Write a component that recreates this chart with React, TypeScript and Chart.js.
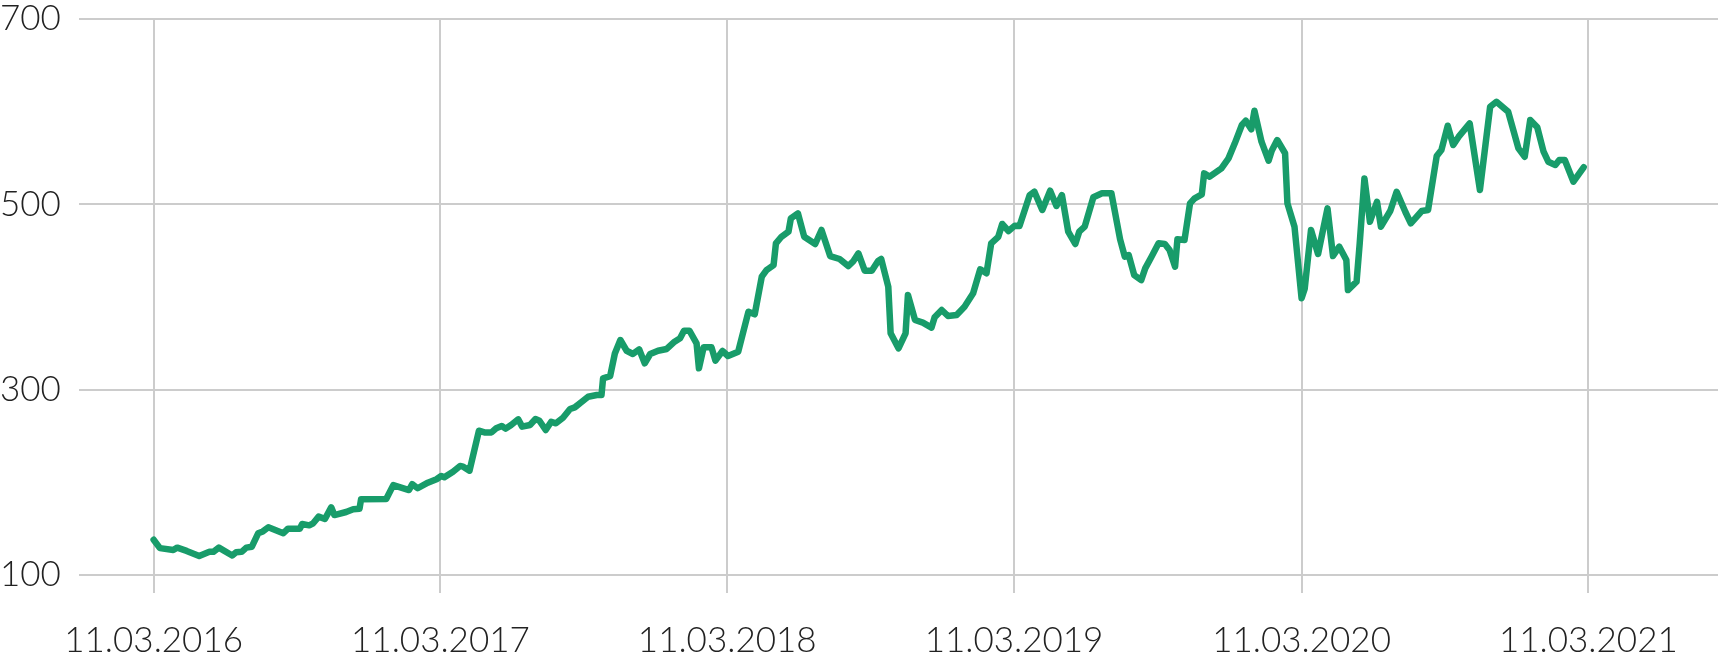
import React, { useEffect, useRef } from "react";
import { Chart, registerables } from "chart.js";

Chart.register(...registerables);

const dates: string[] = [
  "2016-03-11","2016-03-19","2016-04-05","2016-04-10","2016-04-22","2016-05-08","2016-05-21","2016-05-26",
  "2016-06-02","2016-06-19","2016-06-24","2016-07-01","2016-07-07","2016-07-14","2016-07-22","2016-07-28",
  "2016-08-04","2016-08-23","2016-08-29","2016-09-13","2016-09-16","2016-09-25","2016-09-30","2016-10-07",
  "2016-10-15","2016-10-23","2016-10-27","2016-11-11","2016-11-20","2016-11-28","2016-11-30","2017-01-01",
  "2017-01-10","2017-01-30","2017-02-03","2017-02-10","2017-02-23","2017-03-06","2017-03-12","2017-03-16",
  "2017-03-27","2017-04-05","2017-04-09","2017-04-17","2017-04-29","2017-05-06","2017-05-15","2017-05-21",
  "2017-05-28","2017-06-02","2017-06-09","2017-06-18","2017-06-23","2017-07-03","2017-07-10","2017-07-15",
  "2017-07-23","2017-07-30","2017-08-05","2017-08-14","2017-08-23","2017-08-29","2017-09-07","2017-09-15",
  "2017-09-26","2017-10-02","2017-10-04","2017-10-13","2017-10-19","2017-10-26","2017-11-03","2017-11-11",
  "2017-11-19","2017-11-26","2017-12-03","2017-12-13","2017-12-24","2018-01-03","2018-01-10","2018-01-15",
  "2018-01-22","2018-01-31","2018-02-03","2018-02-09","2018-02-19","2018-02-24","2018-03-05","2018-03-12",
  "2018-03-25","2018-04-07","2018-04-15","2018-04-24","2018-04-30","2018-05-09","2018-05-12","2018-05-19",
  "2018-05-28","2018-05-31","2018-06-09","2018-06-17","2018-07-01","2018-07-09","2018-07-20","2018-08-01",
  "2018-08-12","2018-08-18","2018-08-25","2018-09-02","2018-09-11","2018-09-19","2018-09-23","2018-10-02",
  "2018-10-05","2018-10-15","2018-10-24","2018-10-27","2018-11-05","2018-11-15","2018-11-26","2018-11-30",
  "2018-12-09","2018-12-17","2018-12-28","2019-01-07","2019-01-18","2019-01-27","2019-02-04","2019-02-10",
  "2019-02-19","2019-02-24","2019-03-04","2019-03-12","2019-03-18","2019-03-31","2019-04-06","2019-04-16",
  "2019-04-26","2019-05-04","2019-05-11","2019-05-19","2019-05-28","2019-06-02","2019-06-09","2019-06-20",
  "2019-07-01","2019-07-13","2019-07-24","2019-07-30","2019-08-04","2019-08-11","2019-08-20","2019-08-25",
  "2019-09-02","2019-09-11","2019-09-19","2019-09-25","2019-10-02","2019-10-05","2019-10-14","2019-10-21",
  "2019-10-27","2019-11-05","2019-11-08","2019-11-15","2019-11-30","2019-12-09","2019-12-17","2019-12-26",
  "2019-12-31","2020-01-07","2020-01-11","2020-01-20","2020-01-29","2020-02-02","2020-02-09","2020-02-19",
  "2020-02-22","2020-03-02","2020-03-11","2020-03-15","2020-03-23","2020-04-01","2020-04-13","2020-04-20",
  "2020-04-28","2020-05-07","2020-05-09","2020-05-20","2020-05-24","2020-05-30","2020-06-06","2020-06-15",
  "2020-06-20","2020-07-02","2020-07-10","2020-07-21","2020-07-28","2020-08-11","2020-08-19","2020-08-30",
  "2020-09-05","2020-09-13","2020-09-20","2020-09-27","2020-10-11","2020-10-24","2020-11-06","2020-11-14",
  "2020-11-29","2020-12-12","2020-12-20","2020-12-27","2021-01-05","2021-01-13","2021-01-19","2021-01-28",
  "2021-02-02","2021-02-09","2021-02-20","2021-03-05"
];

const values: number[] = [
  138,129,127,129.5,126,120.5,125,125,
  129.5,121,124.5,125,129.5,130.5,145,147,
  151.5,145,150,150,155,153.6,155.8,163,
  160.4,173,164.7,168,171,171.5,181.7,182,
  197,191.7,198,193.6,199.6,203.3,206.8,205.4,
  211.5,217.6,216.9,212.6,255.7,253.9,253.9,258.3,
  260.8,257.9,261.9,268,260.1,261.9,268.3,266.5,
  256.5,265.4,263.7,269.7,279.1,280.9,287,292.4,
  294.2,294.2,312.2,314.7,339,353.6,342,338.5,
  343.5,328.4,338.5,342,343.9,351.8,355.4,363.6,
  363.6,350,323,345.7,345.7,331.3,341.7,336.3,
  341,384.1,381.3,421.9,429.1,434.5,457.9,465,
  470.5,484.9,490.3,465,457.2,472.3,444.2,441,
  433.4,438.1,447.1,428.4,428.4,438.8,441,411.1,
  360.8,344.6,360.8,402.2,375.2,372.3,366.9,378.1,
  386,379.5,380.6,389.5,404,429.9,425.6,457.9,
  465,478.8,471.2,477,476.6,510,513.6,493.9,
  514.7,498.2,510,470.5,457.2,470.5,475.9,507.6,
  511.9,511.9,462.3,443.5,445.3,423.7,418.3,430.9,
  443.5,457.9,457.2,450.7,432.7,462.3,461.5,501,
  506.5,510.8,533.4,529.8,538.8,549.6,565.8,585.6,
  590.2,580.9,601,567.6,547.1,557.9,569.4,555.1,
  501,475.8,398.6,409,472.3,446.4,495.6,444.2,
  454.3,439.9,407.5,416.5,457.9,528,481.2,502.8,
  475.9,493.1,513.6,492,479.5,492.8,493.9,552.1,
  558.6,584.8,564,573,587.3,515.5,605.3,610.7,
  599.9,560.4,551.4,591,583.1,556.8,546,542.5,
  547.9,547.9,524.4,540
];

const tickDates: string[] = ["2016-03-11","2017-03-11","2018-03-11","2019-03-11","2020-03-11","2021-03-11"];
const yTicks: number[] = [100, 300, 500, 700];
const xRange: string[] = ["2015-12-07", "2021-08-23"];

const DAY = 86400000;
const toDay = (s: string) => {
  const [y, m, d] = s.split("-").map(Number);
  return Date.UTC(y, m - 1, d) / DAY;
};
const fmt = (v: number) => {
  const dt = new Date(Math.round(v) * DAY);
  const dd = String(dt.getUTCDate()).padStart(2, "0");
  const mm = String(dt.getUTCMonth() + 1).padStart(2, "0");
  return `${dd}.${mm}.${dt.getUTCFullYear()}`;
};

const FONT = { family: "Lato, 'Noto Sans', sans-serif", size: 35, weight: "300" as any, lineHeight: 1.1 };
const TEXT = "#222222";
const GRID = "#cccccc";

export default function App() {
  const ref = useRef<HTMLCanvasElement | null>(null);
  useEffect(() => {
    if (!ref.current) return;
    const chart = new Chart(ref.current, {
      type: "line",
      data: {
        datasets: [
          {
            data: dates.map((d, i) => ({ x: toDay(d), y: values[i] })),
            borderColor: "#189c6a",
            borderWidth: 6.5,
            pointRadius: 0,
            tension: 0,
            borderJoinStyle: "round",
            borderCapStyle: "round",
            fill: false,
          },
        ],
      },
      options: {
        animation: false,
        responsive: true,
        maintainAspectRatio: false,
        layout: { padding: { top: 19, right: 0, bottom: 0, left: 0 } },
        plugins: { legend: { display: false }, tooltip: { enabled: false } },
        scales: {
          x: {
            type: "linear",
            min: toDay(xRange[0]),
            max: toDay(xRange[1]),
            afterBuildTicks: (axis: any) => {
              axis.ticks = tickDates.map((s) => ({ value: toDay(s) }));
            },
            afterFit: (s: any) => {
              s.height = 83;
            },
            ticks: {
              callback: (v: any) => fmt(Number(v)),
              autoSkip: false,
              maxRotation: 0,
              minRotation: 0,
              padding: 28,
              color: TEXT,
              font: FONT,
            },
            grid: { color: GRID, lineWidth: 2, tickLength: 18, drawTicks: true },
            border: { display: false },
          },
          y: {
            type: "linear",
            min: 100,
            max: 700,
            afterBuildTicks: (axis: any) => {
              axis.ticks = yTicks.map((v) => ({ value: v }));
            },
            afterFit: (s: any) => {
              s.width = 79;
              s.paddingTop = 0;
              s.paddingBottom = 0;
            },
            ticks: {
              crossAlign: "far",
              padding: 10,
              color: TEXT,
              font: FONT,
            },
            grid: { color: GRID, lineWidth: 2, drawTicks: false },
            border: { display: false },
          },
        },
      },
    });
    return () => chart.destroy();
  }, []);
  return (
    <div style={{ position: "fixed", left: 0, top: 0, width: 1718, height: 658, background: "#fff" }}>
      <canvas ref={ref} />
    </div>
  );
}
